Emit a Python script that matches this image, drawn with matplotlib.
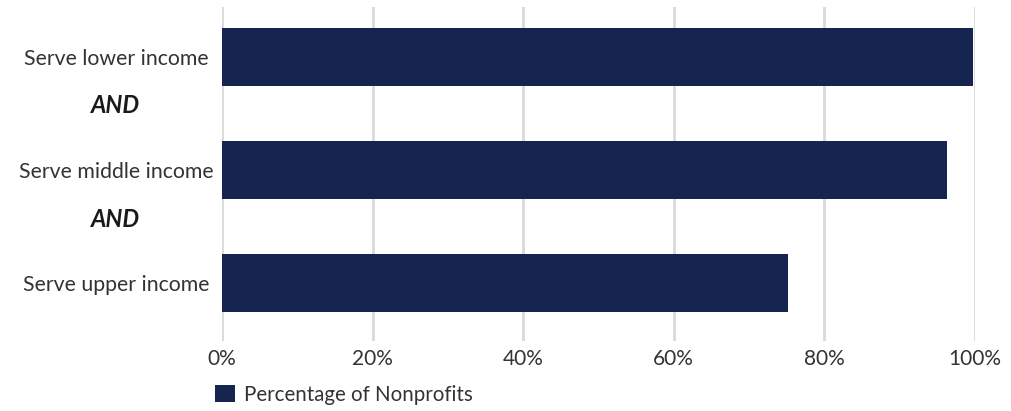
import matplotlib.pyplot as plt
from matplotlib.ticker import PercentFormatter

# --- DATA ---
categories = ['Serve lower income', 'Serve middle income', 'Serve upper income']
pct_nonprofits = [99.8, 96.3, 75.2]
series_name = 'Percentage of Nonprofits'
connector = 'AND'
xticks = [0, 20, 40, 60, 80, 100]

BAR_COLOR = '#16254f'
TEXT_COLOR = '#333333'
GRID_COLOR = '#d9d9d9'

plt.rcParams['font.family'] = ['Lato', 'DejaVu Sans']

fig = plt.figure(figsize=(10.12, 4.11), dpi=100)
ax = fig.add_axes([0.2194, 0.1703, 0.7440, 0.8127])

ypos = list(range(len(categories)))
ax.barh(ypos, pct_nonprofits, height=0.513, color=BAR_COLOR, label=series_name, zorder=3)

ax.set_xlim(0, 100)
ax.set_ylim(2.513, -0.442)
ax.set_xticks(xticks)
ax.xaxis.set_major_formatter(PercentFormatter(decimals=0))
ax.set_yticks(ypos)
ax.set_yticklabels(categories)
for lbl in ax.get_yticklabels():
    lbl.set_ha('center')
ax.tick_params(axis='y', length=0, pad=76, labelsize=15.3, labelcolor=TEXT_COLOR)
ax.tick_params(axis='x', length=0, pad=6, labelsize=15, labelcolor=TEXT_COLOR)

ax.grid(axis='x', color=GRID_COLOR, linewidth=2, zorder=0)
for s in ax.spines.values():
    s.set_visible(False)

# "AND" between the rows, centred under the category labels
for i in range(len(categories) - 1):
    ax.text(-0.142, i + 0.43 + 0.01 * i, connector, transform=ax.get_yaxis_transform(),
            ha='center', va='center', fontsize=17, fontweight='bold', style='italic',
            color='#1a1a1a')

ax.legend(loc='lower left', bbox_to_anchor=(-0.02, -0.215), frameon=False,
          fontsize=14.8, handlelength=0.95, handleheight=0.95, handletextpad=0.45,
          labelcolor=TEXT_COLOR, borderaxespad=0)

fig.savefig('out.png', dpi=100)
